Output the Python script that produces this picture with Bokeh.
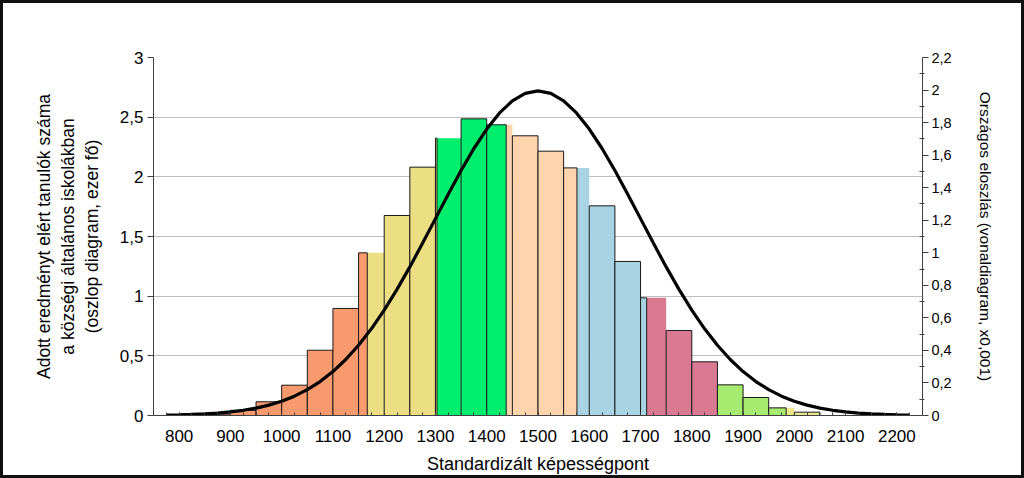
from bokeh.plotting import figure
from bokeh.models import (Range1d, LinearAxis, FixedTicker, CustomJSTickFormatter,
                          ColumnDataSource)
from bokeh.embed import file_html
from bokeh.resources import INLINE

# ---- data ----
bin_start = [800, 850, 900, 950, 1000, 1050, 1100, 1150, 1200, 1250, 1300, 1350, 1400,
             1450, 1500, 1550, 1600, 1650, 1700, 1750, 1800, 1850, 1900, 1950, 2000]
bin_width = 50
counts = [0.004, 0.012, 0.043, 0.115, 0.254, 0.547, 0.897, 1.363, 1.676, 2.081, 2.324,
          2.486, 2.436, 2.344, 2.215, 2.075, 1.757, 1.291, 0.986, 0.712, 0.450, 0.257,
          0.151, 0.064, 0.028]
# proficiency level boundaries (score) and level colours
level_cuts = [1167, 1303, 1438, 1576, 1712, 1850, 1984]
level_colors = ["#F99A6E", "#ECDE82", "#00EE6E", "#FDD4AC", "#A8D3E3", "#D97A92",
                "#A6EA70", "#ECE48A"]

curve_x = list(range(775, 2226, 25))
curve_y = [0.0029, 0.0044, 0.0067, 0.0101, 0.0151, 0.0222, 0.0320, 0.0455, 0.0636, 0.0876,
           0.1189, 0.1587, 0.2086, 0.2700, 0.3439, 0.4314, 0.5327, 0.6476, 0.7751, 0.9132,
           1.0594, 1.2098, 1.3603, 1.5057, 1.6408, 1.7603, 1.8593, 1.9333, 1.9792, 1.9947,
           1.9792, 1.9333, 1.8593, 1.7603, 1.6408, 1.5057, 1.3603, 1.2098, 1.0594, 0.9132,
           0.7751, 0.6476, 0.5327, 0.4314, 0.3439, 0.2700, 0.2086, 0.1587, 0.1189, 0.0876,
           0.0636, 0.0455, 0.0320, 0.0222, 0.0151, 0.0101, 0.0067, 0.0044, 0.0029]

x_ticks = list(range(800, 2201, 100))
x_minor = list(range(775, 2250, 25))
left_ticks = [0, 0.5, 1, 1.5, 2, 2.5, 3]
right_ticks = [0, 0.2, 0.4, 0.6, 0.8, 1.0, 1.2, 1.4, 1.6, 1.8, 2.0, 2.2]
right_minor = [0.1, 0.3, 0.5, 0.7, 0.9, 1.1, 1.3, 1.5, 1.7, 1.9, 2.1]

FONT = "Liberation Sans"

# ---- build segments: first part of each bin outlined, later parts not ----
def level_of(v):
    i = 0
    for c in level_cuts:
        if v >= c:
            i += 1
    return i

out = dict(l=[], r=[], top=[], color=[])
noout = dict(l=[], r=[], top=[], color=[])
for s, h in zip(bin_start, counts):
    e = s + bin_width
    edges = [s] + [c for c in level_cuts if s < c < e] + [e]
    for k in range(len(edges) - 1):
        a, b = edges[k], edges[k + 1]
        d = out if k == 0 else noout
        d["l"].append(a); d["r"].append(b); d["top"].append(h)
        d["color"].append(level_colors[level_of(a)])

B = 3  # outer border width (css)
p = figure(width=1024 - 2 * B, height=478 - 2 * B, output_backend="svg",
           toolbar_location=None,
           x_range=Range1d(750, 2250), y_range=Range1d(0, 3),
           min_border_left=150, min_border_right=105, min_border_top=54,
           min_border_bottom=66)
p.stylesheets = [":host { border: %dpx solid #111111 !important; "
                 "box-sizing: content-box !important; }" % B]
p.extra_y_ranges = {"dist": Range1d(0, 2.2)}
p.outline_line_color = None
p.background_fill_color = "white"
p.border_fill_color = "white"

p.quad(left="l", right="r", bottom=0, top="top", fill_color="color",
       line_color=None, source=ColumnDataSource(noout))
p.quad(left="l", right="r", bottom=0, top="top", fill_color="color",
       line_color="#1a1a1a", line_width=1, source=ColumnDataSource(out))
p.line(curve_x, curve_y, y_range_name="dist", line_color="black", line_width=3.2)

fmt = CustomJSTickFormatter(code="""
var s = (Math.round(tick*10)/10).toString();
return s.replace('.', ',');
""")

# x axis
xa = p.xaxis[0]
xa.ticker = FixedTicker(ticks=x_ticks, minor_ticks=x_minor)
xa.axis_line_color = "#404040"
xa.major_tick_line_color = "#404040"
xa.major_tick_out = 0
xa.major_tick_in = 3
xa.minor_tick_line_color = "#404040"
xa.minor_tick_out = 0
xa.minor_tick_in = 3
xa.major_label_text_font = FONT
xa.major_label_text_font_size = "17px"
xa.major_label_text_color = "black"
xa.major_label_standoff = 14
xa.axis_label = "Standardizált képességpont"
xa.axis_label_text_font = FONT
xa.axis_label_text_font_size = "18px"
xa.axis_label_text_font_style = "normal"
xa.axis_label_text_color = "black"
xa.axis_label_standoff = 9

# left axis
ya = p.yaxis[0]
ya.ticker = FixedTicker(ticks=left_ticks)
ya.formatter = fmt
ya.axis_line_color = "#404040"
ya.major_tick_line_color = "#404040"
ya.major_tick_out = 6
ya.major_tick_in = 0
ya.minor_tick_line_color = None
ya.major_label_text_font = FONT
ya.major_label_text_font_size = "17px"
ya.major_label_text_color = "black"
ya.major_label_standoff = 4
ya.axis_label = ("Adott eredményt elért tanulók száma\n"
                 "a községi általános iskolákban\n"
                 "(oszlop diagram, ezer fő)")
ya.axis_label_text_font = FONT
ya.axis_label_text_font_size = "17.5px"
ya.axis_label_text_font_style = "normal"
ya.axis_label_text_color = "black"
ya.axis_label_text_line_height = 1.2
ya.axis_label_standoff = 15

# right axis
ra = LinearAxis(y_range_name="dist", ticker=FixedTicker(ticks=right_ticks,
                minor_ticks=right_minor))
ra.formatter = fmt
ra.axis_line_color = "#404040"
ra.major_tick_line_color = "#404040"
ra.major_tick_out = 6
ra.major_tick_in = 0
ra.minor_tick_line_color = "#404040"
ra.minor_tick_out = 2
ra.minor_tick_in = 3
ra.major_label_text_font = FONT
ra.major_label_text_font_size = "14.5px"
ra.major_label_text_color = "black"
ra.major_label_standoff = 3
ra.axis_label = "Országos eloszlás (vonaldiagram, x0,001)"
ra.axis_label_text_font = FONT
ra.axis_label_text_font_size = "15.5px"
ra.axis_label_text_font_style = "normal"
ra.axis_label_text_color = "black"
ra.axis_label_standoff = 22
p.add_layout(ra, "right")

p.xgrid.grid_line_color = None
p.ygrid.ticker = FixedTicker(ticks=left_ticks)
p.ygrid.grid_line_color = "#BEBEBE"
p.ygrid.grid_line_width = 1

open("out.html", "w").write(file_html(p, INLINE))
